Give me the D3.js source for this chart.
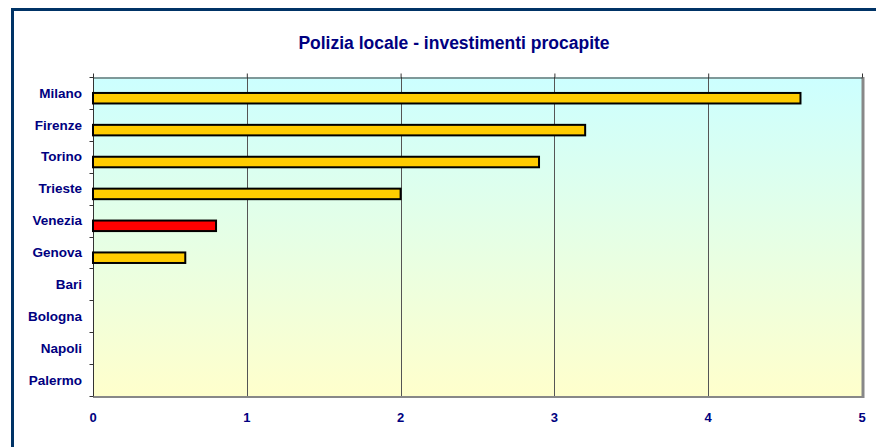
<!DOCTYPE html>
<html>
<head>
<meta charset="utf-8">
<script src="https://cdn.jsdelivr.net/npm/d3@7"></script>
<style>
  body { margin: 0; background: #fff; }
  svg { display: block; font-family: Arial, "Liberation Sans", sans-serif; }
</style>
</head>
<body>
<div id="chart"></div>
<script>
// Chart data
const cities = ["Milano", "Firenze", "Torino", "Trieste", "Venezia", "Genova", "Bari", "Bologna", "Napoli", "Palermo"];
const values = [4.6, 3.2, 2.9, 2.0, 0.8, 0.6, null, null, null, null];
const highlight = ["Venezia"];
const xTicks = [0, 1, 2, 3, 4, 5];
const title = "Polizia locale - investimenti procapite";

const width = 876;
const height = 447;
const plot = { left: 93, top: 77, right: 862, bottom: 396 };
const navy = "#000080";

const svg = d3.select("#chart")
  .append("svg")
  .attr("width", width)
  .attr("height", height);

// Background gradient of plot area
const grad = svg.append("defs").append("linearGradient")
  .attr("id", "bg")
  .attr("x1", 0).attr("y1", 0).attr("x2", 0).attr("y2", 1);
grad.append("stop").attr("offset", "0%").attr("stop-color", "#ccffff");
grad.append("stop").attr("offset", "100%").attr("stop-color", "#ffffcc");

// Outer frame (runs off the picture on the right and bottom)
svg.append("rect")
  .attr("x", 12.5).attr("y", 9.5)
  .attr("width", 900).attr("height", 500)
  .attr("fill", "none")
  .attr("stroke", "#003366")
  .attr("stroke-width", 3);

// Title
svg.append("text")
  .attr("x", 454).attr("y", 49)
  .attr("text-anchor", "middle")
  .attr("fill", navy)
  .attr("font-weight", "bold")
  .style("font-size", "17.5px")
  .text(title);

// Scales
const x = d3.scaleLinear().domain([0, 5]).range([plot.left, plot.right]);
const y = d3.scaleBand().domain(cities).range([plot.top, plot.bottom]);

// Plot background
svg.append("rect")
  .attr("x", plot.left).attr("y", plot.top)
  .attr("width", plot.right - plot.left)
  .attr("height", plot.bottom - plot.top)
  .attr("fill", "url(#bg)");

// Vertical gridlines
svg.append("g")
  .selectAll("line")
  .data(xTicks.slice(1, -1))
  .enter()
  .append("line")
  .attr("x1", (d) => Math.round(x(d)) + 0.5)
  .attr("x2", (d) => Math.round(x(d)) + 0.5)
  .attr("y1", plot.top)
  .attr("y2", plot.bottom)
  .attr("stroke", "#555")
  .attr("stroke-width", 1);

// Plot borders: gray right & bottom
svg.append("line")
  .attr("x1", plot.right + 1).attr("x2", plot.right + 1)
  .attr("y1", plot.top).attr("y2", plot.bottom + 2)
  .attr("stroke", "#888").attr("stroke-width", 3);
svg.append("line")
  .attr("x1", plot.left).attr("x2", plot.right + 2)
  .attr("y1", plot.bottom + 1).attr("y2", plot.bottom + 1)
  .attr("stroke", "#888").attr("stroke-width", 2);

// Top axis: tick marks only
svg.append("g")
  .attr("transform", `translate(0,${plot.top + 0.5})`)
  .call(d3.axisTop(x).tickValues(xTicks).tickSize(4).tickSizeOuter(0).tickFormat(""))
  .call((g) => g.selectAll("path, line").attr("stroke", "#333"));

// Bottom tick labels
svg.append("g")
  .selectAll("text")
  .data(xTicks)
  .enter()
  .append("text")
  .attr("x", (d) => x(d))
  .attr("y", 421.5)
  .attr("text-anchor", "middle")
  .attr("fill", navy)
  .attr("font-weight", "bold")
  .style("font-size", "13px")
  .text((d) => d);

// Left axis with ticks at category boundaries
const yAxis = svg.append("g")
  .attr("transform", `translate(${plot.left + 0.5},0)`);
yAxis.append("line")
  .attr("y1", plot.top).attr("y2", plot.bottom)
  .attr("stroke", "#333");
yAxis.selectAll(".tick")
  .data(cities.concat(["end"]))
  .enter()
  .append("line")
  .attr("x1", -4).attr("x2", 0)
  .attr("y1", (d, i) => Math.round(plot.top + i * y.step()) + 0.5)
  .attr("y2", (d, i) => Math.round(plot.top + i * y.step()) + 0.5)
  .attr("stroke", "#333");

// Category labels
svg.append("g")
  .selectAll("text")
  .data(cities)
  .enter()
  .append("text")
  .attr("x", 82)
  .attr("y", (d) => y(d) + y.bandwidth() / 2)
  .attr("dy", "0.35em")
  .attr("text-anchor", "end")
  .attr("fill", navy)
  .attr("font-weight", "bold")
  .style("font-size", "13.5px")
  .text((d) => d);

// Bars
const barData = cities.map((c, i) => ({ city: c, value: values[i] }))
  .filter((d) => d.value != null);

svg.append("g")
  .selectAll("rect")
  .data(barData)
  .enter()
  .append("rect")
  .attr("x", x(0))
  .attr("y", (d) => y(d.city) + y.bandwidth() * 0.5)
  .attr("width", (d) => x(d.value) - x(0))
  .attr("height", y.bandwidth() * 0.33)
  .attr("fill", (d) => highlight.includes(d.city) ? "#ff0000" : "#ffcc00")
  .attr("stroke", "#000")
  .attr("stroke-width", 2);
</script>
</body>
</html>
